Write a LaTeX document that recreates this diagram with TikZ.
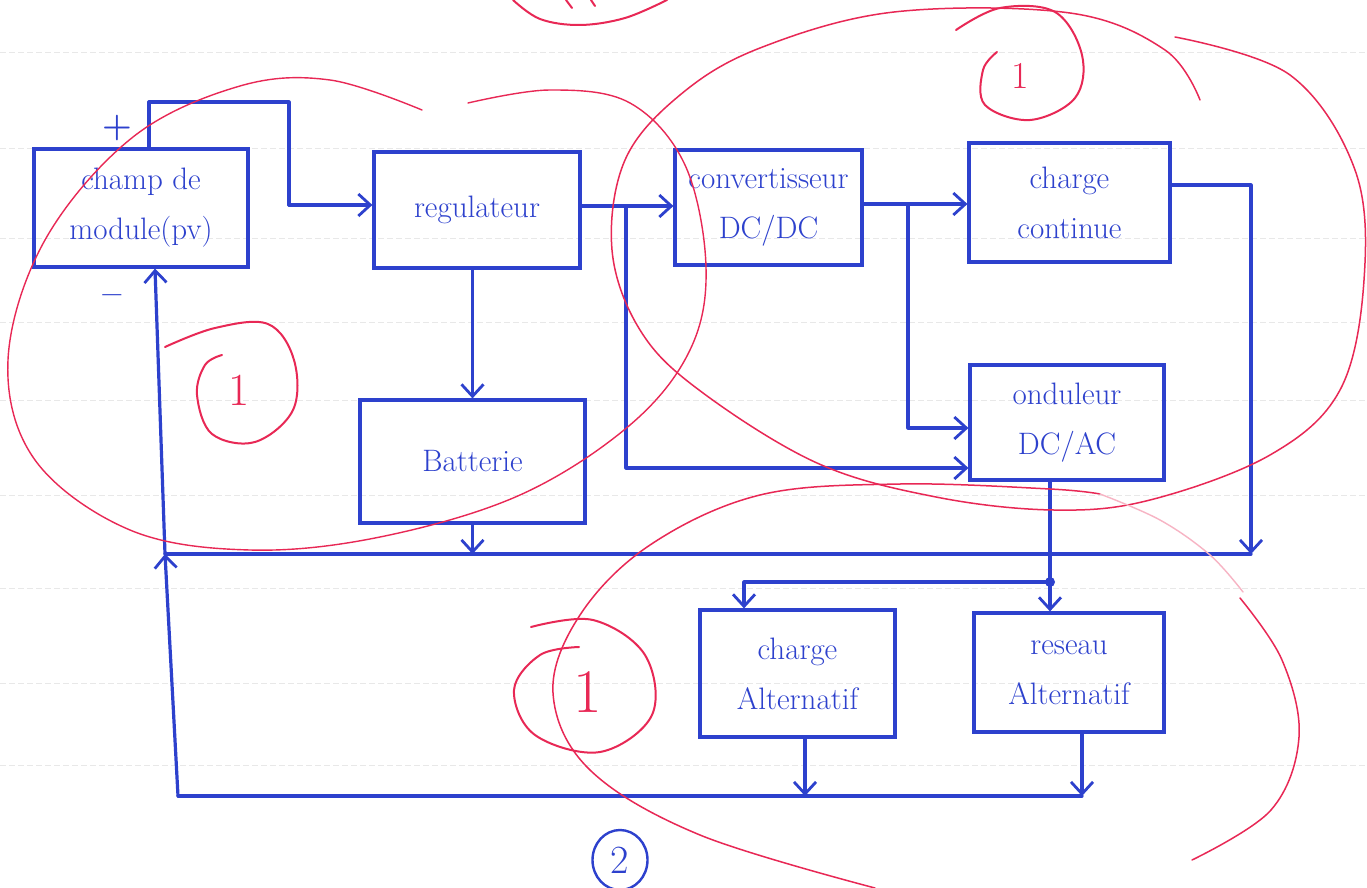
\documentclass[tikz,border=0pt]{standalone}
\usepackage{fontspec}
\usetikzlibrary{arrows.meta,shapes.geometric}
\definecolor{pen}{RGB}{45,65,205}
\definecolor{redpen}{RGB}{232,40,85}
\begin{document}
\begin{tikzpicture}[x=1pt,y=-1pt,
  wire/.style={pen, line width=3.2pt, line cap=round, line join=round},
  arr/.style={wire, -{Straight Barb[length=12pt,width=22pt,line width=2.8pt]}},
  box/.style={draw=pen, line width=3.2pt, text=pen, font=\fontsize{31}{50}\selectfont, align=center, inner sep=0pt},
  sign/.style={text=pen, font=\fontsize{34}{34}\selectfont\bfseries, inner sep=0pt},
  redink/.style={redpen, line width=2pt, line cap=round, line join=round},
  redfaint/.style={redpen!35, line width=1.4pt, line cap=round},
  redtxt/.style={text=redpen, inner sep=0pt},
  paper/.style={gray!18, line width=0.8pt, dash pattern=on 6pt off 3pt}
]
\fill[white] (0,0) rectangle (1367,888);
\useasboundingbox (0,0) rectangle (1367,888);

% faint ruled paper lines
\foreach \yy in {52,148,238,322,400,495,588,683,765}
  \draw[paper] (0,\yy) -- (1367,\yy);

% boxes
\node[box, minimum width=214, minimum height=118] (champ) at (141,208) {champ de\\module(pv)};
\node[box, minimum width=206, minimum height=116] (reg) at (477,210) {regulateur};
\node[box, minimum width=187, minimum height=115] (conv) at (768.5,207.5) {convertisseur\\DC/DC};
\node[box, minimum width=201, minimum height=119] (cc) at (1069.5,202.5) {charge\\continue};
\node[box, minimum width=194, minimum height=115] (ond) at (1067,422.5) {onduleur\\DC/AC};
\node[box, minimum width=225, minimum height=123] (bat) at (472.5,461.5) {Batterie};
\node[box, minimum width=195, minimum height=127] (ca) at (797.5,673.5) {charge\\Alternatif};
\node[box, minimum width=190, minimum height=119] (ra) at (1069,672.5) {reseau\\Alternatif};

% signs
\node[sign] (plus) at (117,128) {+};
\node[sign] (minus) at (112,300) {\textendash};

% coordinates
\coordinate (pA) at (149,102);
\coordinate (pB) at (289,102);
\coordinate (pC) at (289,205);
\coordinate (r1) at (580,206);
\coordinate (j1) at (626,206);
\coordinate (j1b) at (626,468);
\coordinate (c1) at (865,204);
\coordinate (j2) at (908,204);
\coordinate (j2b) at (908,428);
\coordinate (c2) at (1170,185);
\coordinate (bL) at (165,554);
\coordinate (bR) at (1251,554);
\coordinate (botL) at (178,796);
\coordinate (botR) at (1082,796);
\coordinate (cs) at (155,267);
\coordinate (dot) at (1050,582);
\coordinate (k) at (744,582);
\coordinate (q1) at (805,796);

% connectors
\draw[wire] (champ.north -| pA) -- (pA) -- (pB) -- (pC);
\draw[arr] (pC) -- (reg.west |- pC);
\draw[arr] (reg.east |- r1) -- (conv.west |- r1);
\draw[arr] (j1) -- (j1b) -- (ond.west |- j1b);
\draw[arr] (reg.south -| bat.north) -- (bat.north);
\draw[arr] (conv.east |- c1) -- (cc.west |- c1);
\draw[arr] (j2) |- (ond.west |- j2b);
\draw[arr] (cc.east |- c2) -| (bR);
\draw[wire] (bL) -- (bR);
\draw[arr] (bat.south) -- (bat.south |- bL);
\draw[wire] (botL) -- (botR);
\draw[arr] (botL) -- (bL);
\draw[arr] (bL) -- (champ.south -| cs);
\draw[wire] (ond.south -| dot) -- (dot);
\fill[pen] (dot) circle (5);
\draw[arr] (dot) -- (ra.north -| dot);
\draw[arr] (dot) -- (k) -- (ca.north -| k);
\draw[arr] (ca.south -| q1) -- (q1);
\draw[arr] (ra.south -| botR) -- (botR);

% circled 2
\node[ellipse, draw=pen, line width=2.4pt, text=pen, minimum width=55, minimum height=60, inner sep=0pt,
      font=\fontsize{40}{40}\selectfont] (two) at (620,860) {2};

% red marks at top
\draw[redink] plot[smooth, tension=0.6] coordinates {(513,0) (540,19) (580,25) (625,18) (667,0)};
\draw[redink] (566,0) -- (572,8);
\draw[redink] (591,0) -- (595,6);

% left loop
\draw[redink, line width=1.4pt] plot[smooth, tension=0.6] coordinates {(422,110) (330,80) (240,86) (133,137) (45,240) (8,360) (35,460) (130,530) (250,550) (380,537) (520,495) (630,425) (690,350) (706,267) (685,165) (630,103) (550,90) (468,103)};

% right loop
\draw[redink, line width=1.5pt] plot[smooth, tension=0.6] coordinates {(1175,37) (1290,75) (1355,170) (1364,280) (1340,390) (1270,455) (1150,500) (1054,510) (936,497) (817,463) (699,390) (640,330) (612,250) (625,160) (680,95) (760,48) (894,12) (1070,13) (1165,50) (1200,100)};

% bottom loop
\draw[redink, line width=1.5pt] plot[smooth, tension=0.6] coordinates {(875,888) (700,835) (590,770) (553,693) (580,615) (650,545) (760,495) (900,484) (1050,489) (1100,494)};
\draw[redfaint] plot[smooth, tension=0.6] coordinates {(1100,494) (1160,520) (1210,555) (1243,592)};
\draw[redink, line width=1.5pt] plot[smooth, tension=0.6] coordinates {(1240,598) (1282,660) (1299,737) (1271,810) (1192,860)};

% circled ones
\draw[redink] plot[smooth, tension=0.6] coordinates {(165,347) (215,328) (268,324) (294,360) (293,410) (255,442) (212,434) (197,395) (205,365) (222,355)};
\node[redtxt, font=\fontsize{46}{46}\selectfont] (one1) at (239,390) {1};

\draw[redink] plot[smooth, tension=0.6] coordinates {(956,30) (1000,8) (1055,12) (1082,55) (1075,98) (1030,120) (985,105) (983,70) (997,52)};
\node[redtxt, font=\fontsize{38}{38}\selectfont] (one2) at (1020,76) {1};

\draw[redink] plot[smooth, tension=0.6] coordinates {(531,627) (593,620) (645,655) (652,715) (600,752) (535,735) (514,690) (540,655) (579,647)};
\node[redtxt, font=\fontsize{62}{62}\selectfont] (one3) at (588,692) {1};
\end{tikzpicture}
\end{document}
